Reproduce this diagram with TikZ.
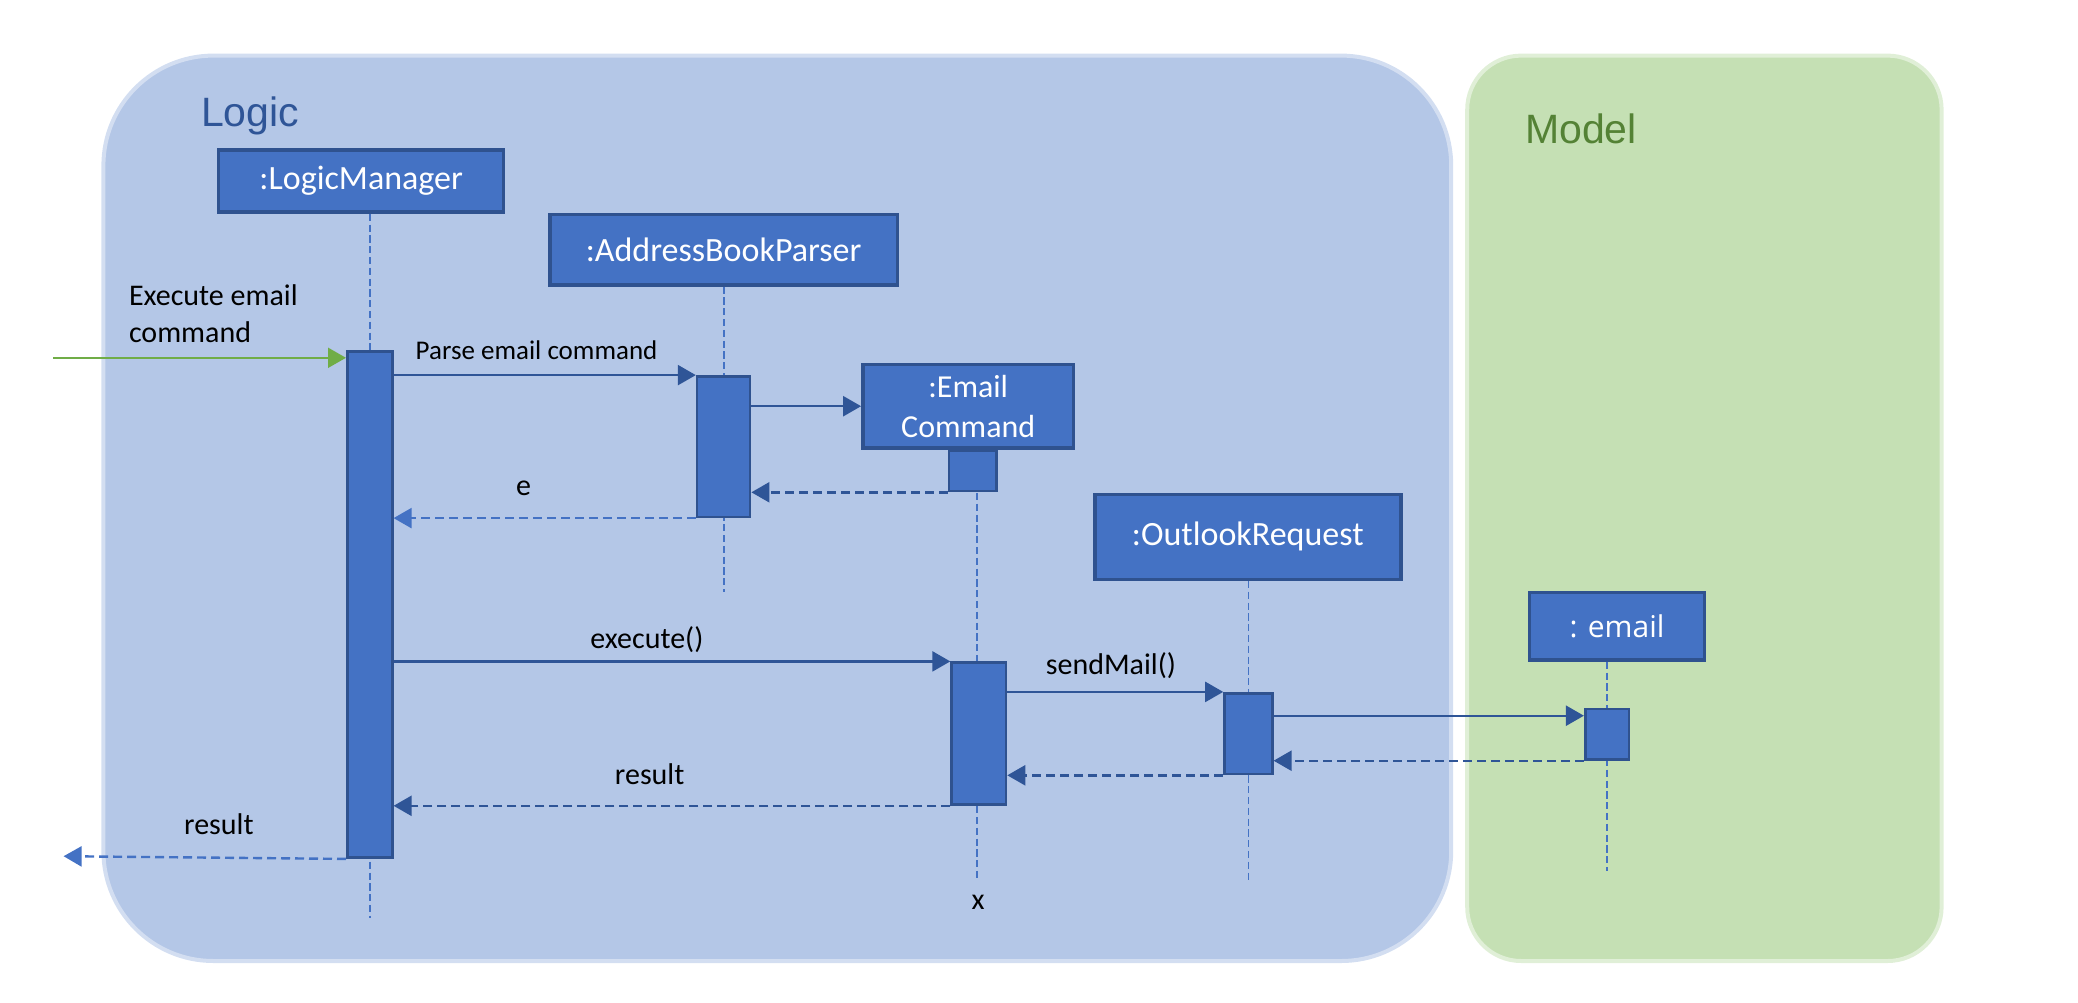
\documentclass[tikz,border=0pt]{standalone}
\usepackage{fontspec}
\setmainfont{Carlito}
\newfontfamily\titlefont{Liberation Sans}
\newfontfamily\emailfont{Open Sans}
\usetikzlibrary{arrows.meta,positioning}
\definecolor{logicfill}{HTML}{B4C7E7}
\definecolor{logicedge}{HTML}{D3DEF1}
\definecolor{logictitle}{HTML}{2F5597}
\definecolor{modelfill}{HTML}{C5E0B4}
\definecolor{modeledge}{HTML}{E0EFD7}
\definecolor{modeltitle}{HTML}{548235}
\definecolor{objfill}{HTML}{4472C4}
\definecolor{objedge}{HTML}{2F528F}
\definecolor{msgdark}{HTML}{2F5597}
\definecolor{entergreen}{HTML}{70AD47}
\tikzset{
    panel/.style = {rectangle, line width=2pt, inner sep=0pt},
    panel-title/.style = {inner sep=0pt, font=\titlefont\fontsize{20.5}{24}\selectfont},
    object-box/.style = {draw=objedge, fill=objfill, line width=1.7pt, text=white, inner sep=0pt, font=\fontsize{17}{20}\selectfont},
    act-bar/.style = {draw=objedge, fill=objfill, line width=1.3pt, inner sep=0pt},
    life-line/.style = {draw=objfill, line width=0.9pt, dash pattern=on 3.6pt off 1.8pt},
    call-msg/.style = {draw=msgdark, line width=1.2pt, -{Triangle[length=9pt,width=10pt]}},
    return-msg/.style = {call-msg, dash pattern=on 4.5pt off 2.5pt},
    return-msg-light/.style = {return-msg, draw=objfill},
    enter-msg/.style = {draw=entergreen, line width=1pt, -{Triangle[length=9pt,width=10pt]}},
    msg-label/.style = {inner sep=0pt, font=\fontsize{15}{18.6}\selectfont},
}
\begin{document}
\begin{tikzpicture}[x=1pt, y=-1pt]
\useasboundingbox (0,0) rectangle (1039,501);

\node[panel, draw=logicedge, fill=logicfill, rounded corners=55pt, minimum width=673.9pt, minimum height=452.7pt] (logic) at (388.65,254.15) {};
\node[panel, draw=modeledge, fill=modelfill, rounded corners=27pt, minimum width=237.2pt, minimum height=452.7pt] (model) at (852.2,254.15) {};
\node[panel-title, text=logictitle, below right=21.5pt and 49.7pt] (logictext) at (logic.north west) {Logic};
\node[panel-title, text=modeltitle, below right=30pt and 29.8pt] (modeltext) at (model.north west) {Model};

\node[object-box, minimum width=142.5pt, minimum height=31pt] (lmbox) at (180.6,90.5) {:LogicManager};
\node[object-box, minimum width=173.6pt, minimum height=35.1pt] (abpbox) at (361.8,124.9) {:AddressBookParser};
\node[object-box, minimum width=105.4pt, minimum height=41.8pt, align=center, font=\fontsize{16}{19.9}\selectfont] (ecbox) at (484.1,203.1) {:Email\\Command};
\node[object-box, minimum width=153pt, minimum height=42.4pt] (orbox) at (623.9,268.4) {:OutlookRequest};
\node[object-box, minimum width=87.5pt, minimum height=33.8pt, font=\emailfont\fontsize{15}{18}\selectfont] (emailbox) at (808.5,313.1) {: email};

\coordinate (lmend) at (184.9,459.2);
\coordinate (abpend) at (361.8,296.2);
\coordinate (ecend) at (488.4,440.7);
\coordinate (orend) at (624.2,440.7);
\coordinate (emailend) at (803.5,435.4);
\draw[life-line] (lmbox.south -| lmend) -- (lmend);
\draw[life-line] (abpbox.south -| abpend) -- (abpend);
\draw[life-line] (ecbox.south -| ecend) -- (ecend);
\draw[life-line] (orbox.south -| orend) -- (orend);
\draw[life-line] (emailbox.south -| emailend) -- (emailend);
\node[msg-label] (ecx) at (489,451) {x};

\node[act-bar, minimum width=22.5pt, minimum height=253.2pt] (lmbar) at (184.9,302.2) {};
\node[act-bar, minimum width=26.5pt, minimum height=70.2pt] (abpbar) at (361.8,223.3) {};
\node[act-bar, minimum width=23.9pt, minimum height=20pt, below=0pt of ecbox, xshift=2.3pt] (ecact) {};
\node[act-bar, minimum width=27.2pt, minimum height=70.9pt] (ecbar) at (489.4,366.8) {};
\node[act-bar, minimum width=23.9pt, minimum height=40.4pt] (orbar) at (624.2,366.8) {};
\node[act-bar, minimum width=21.8pt, minimum height=25.2pt] (emailbar) at (803.5,367.1) {};

\coordinate (in) at (26.5,178.9);
\coordinate (out) at (31.8,428.1);
\draw[enter-msg] (in) -- (in -| lmbar.west);
\node[msg-label, align=left, anchor=south west] (execlbl) at (64.3,171.5) {Execute email\\command};

\draw[call-msg] (lmbar.east |- abpbar.north) -- node[msg-label, above=7pt, pos=0.473, font=\fontsize{13.5}{16}\selectfont] (parselbl) {Parse email command} (abpbar.north west);
\draw[call-msg] (abpbar.east |- ecbox.west) -- (ecbox.west);
\draw[return-msg] (ecact.south west) -- (ecact.south west -| abpbar.east);
\draw[return-msg-light] (abpbar.south west) -- node[msg-label, above=10.8pt, pos=0.57] (elbl) {e} (abpbar.south west -| lmbar.east);
\draw[call-msg] (lmbar.east |- ecbar.north) -- node[msg-label, above=4pt, pos=0.455] (execlbl2) {execute()} (ecbar.north west);
\draw[call-msg] (ecbar.east |- orbar.north) -- node[msg-label, above=6pt, pos=0.48] (sendlbl) {sendMail()} (orbar.north west);
\draw[call-msg] ([yshift=-4pt]orbar.east |- emailbar.north) -- ([yshift=-4pt]emailbar.north west);
\draw[return-msg] (emailbar.south west) -- (emailbar.south west -| orbar.east);
\draw[return-msg] (orbar.south west) -- (orbar.south west -| ecbar.east);
\draw[return-msg] (ecbar.south west) -- node[msg-label, above=9.8pt, pos=0.54] (reslbl) {result} (ecbar.south west -| lmbar.east);
\draw[return-msg-light] (lmbar.south west) -- node[msg-label, above=11pt, pos=0.45] (outlbl) {result} (out);
\end{tikzpicture}
\end{document}
